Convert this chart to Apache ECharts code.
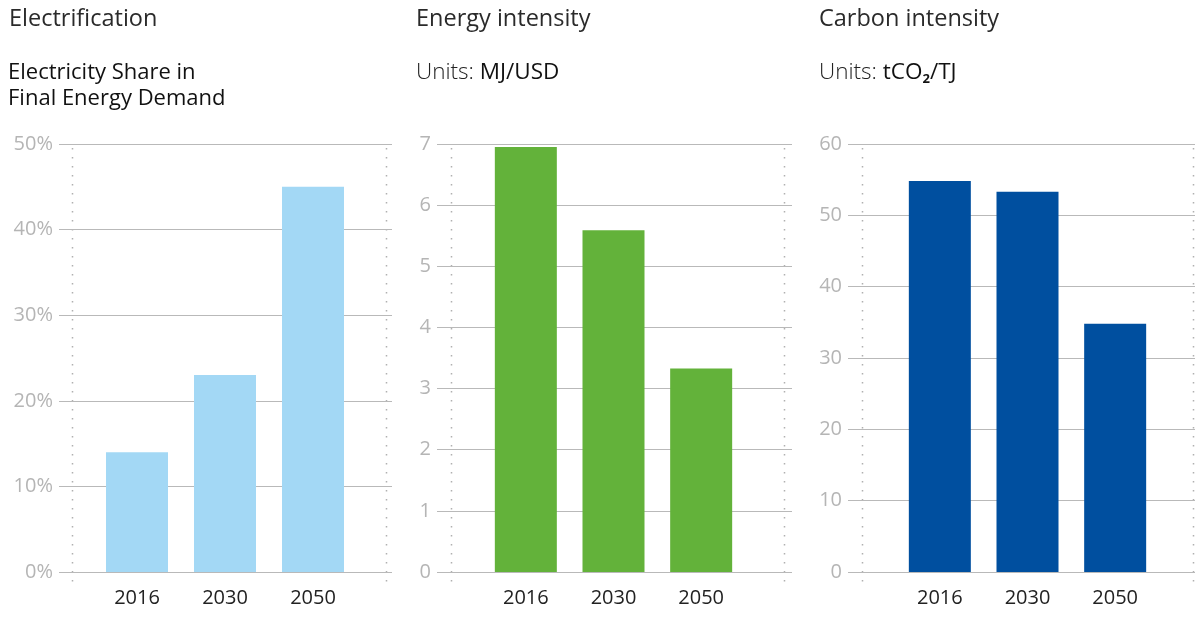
<!DOCTYPE html>
<html>
<head>
<meta charset="utf-8">
<script src="https://cdn.jsdelivr.net/npm/echarts@6/dist/echarts.min.js"></script>
<style>
  html, body { margin: 0; padding: 0; background: #fff; }
  #chart { width: 1195px; height: 626px; }
</style>
</head>
<body>
<div id="chart"></div>
<script>
// ---- data ----
const categories = ['2016', '2030', '2050'];
const electricityShare = [14, 23, 45];      // %
const energyIntensity = [6.95, 5.59, 3.33]; // MJ/USD
const carbonIntensity = [54.8, 53.3, 34.8]; // tCO2/TJ

const FONT = '"Open Sans", Lato, sans-serif';
const chart = echarts.init(document.getElementById('chart'));

const W = 1195, H = 626;
const TOP = 144, BOTTOM = H - 572;

const panels = [
  { lineL: 59, lineR: 392, barL: 93, barR: 357, max: 50, interval: 10, fmt: '{value}%', data: electricityShare, color: '#A3D8F5', dots: [72, 386] },
  { lineL: 437, lineR: 792, barL: 482, barR: 745, max: 7, interval: 1, fmt: '{value}', data: energyIntensity, color: '#63B23A', dots: [451, 784] },
  { lineL: 848, lineR: 1195, barL: 896, barR: 1159, max: 60, interval: 10, fmt: '{value}', data: carbonIntensity, color: '#004F9F', dots: [862, 1193] }
];

const grid = [], xAxis = [], yAxis = [], series = [], graphic = [];
panels.forEach((p, i) => {
  const gi = grid.length;
  grid.push({ left: p.lineL, width: p.lineR - p.lineL, top: TOP, bottom: BOTTOM, containLabel: false });
  xAxis.push({ gridIndex: gi, type: 'value', show: false, min: 0, max: 1 });
  yAxis.push({
    gridIndex: gi, type: 'value', min: 0, max: p.max, interval: p.interval,
    axisLine: { show: false }, axisTick: { show: false },
    axisLabel: { formatter: p.fmt, color: '#b5b5b5', fontSize: 20, fontFamily: FONT, margin: 6 },
    splitLine: { lineStyle: { color: '#b9b9b9', width: 1 } }
  });
  const bi = grid.length;
  grid.push({ left: p.barL, width: p.barR - p.barL, top: TOP, bottom: BOTTOM, containLabel: false });
  xAxis.push({
    gridIndex: bi, type: 'category', data: categories,
    axisLine: { show: false }, axisTick: { show: false },
    axisLabel: { color: '#222', fontSize: 20, fontFamily: FONT, margin: 16 }
  });
  yAxis.push({ gridIndex: bi, type: 'value', min: 0, max: p.max, interval: p.interval, show: false, splitLine: { show: false } });
  series.push({
    type: 'bar', xAxisIndex: bi, yAxisIndex: bi, data: p.data, barWidth: 62,
    itemStyle: { color: p.color }, silent: true, z: 1
  });
  p.dots.forEach(x => {
    graphic.push({
      type: 'line', shape: { x1: x + 0.5, y1: TOP + 4, x2: x + 0.5, y2: 582 },
      style: { stroke: '#b0b0b0', lineWidth: 1.5, lineDash: [1.5, 7.5] }, silent: true, z: 0
    });
  });
});

const titleStyle = { color: '#2a2a2a', fontSize: 23.5, fontFamily: FONT, fontWeight: 'normal' };
const subStyle = { color: '#111', fontSize: 22, fontFamily: FONT, fontWeight: 'normal', lineHeight: 26 };

chart.setOption({
  animation: false,
  backgroundColor: '#fff',
  title: [
    { text: 'Electrification', left: 9, top: 7, padding: 0, textStyle: titleStyle },
    { text: 'Energy intensity', left: 416, top: 7, padding: 0, textStyle: titleStyle },
    { text: 'Carbon intensity', left: 819, top: 7, padding: 0, textStyle: titleStyle },
    { text: 'Electricity Share in\nFinal Energy Demand', left: 8, top: 60, padding: 0, textStyle: subStyle },
    {
      text: '{l|Units: }{b|MJ/USD}', left: 416, top: 60, padding: 0,
      textStyle: { rich: {
        l: { color: '#222', fontSize: 22.5, fontFamily: FONT, fontWeight: 300, lineHeight: 26 },
        b: { color: '#111', fontSize: 22.5, fontFamily: FONT, fontWeight: 'normal', lineHeight: 26 }
      } }
    },
    {
      text: '{l|Units: }{b|tCO}{s|2}{b|/TJ}', left: 819, top: 60, padding: 0,
      textStyle: { rich: {
        l: { color: '#222', fontSize: 22.5, fontFamily: FONT, fontWeight: 300, lineHeight: 26 },
        b: { color: '#111', fontSize: 22.5, fontFamily: FONT, fontWeight: 'normal', lineHeight: 26 },
        s: { color: '#111', fontSize: 13, fontFamily: FONT, lineHeight: 26, verticalAlign: 'bottom' }
      } }
    }
  ],
  grid, xAxis, yAxis, series, graphic
});
</script>
</body>
</html>
